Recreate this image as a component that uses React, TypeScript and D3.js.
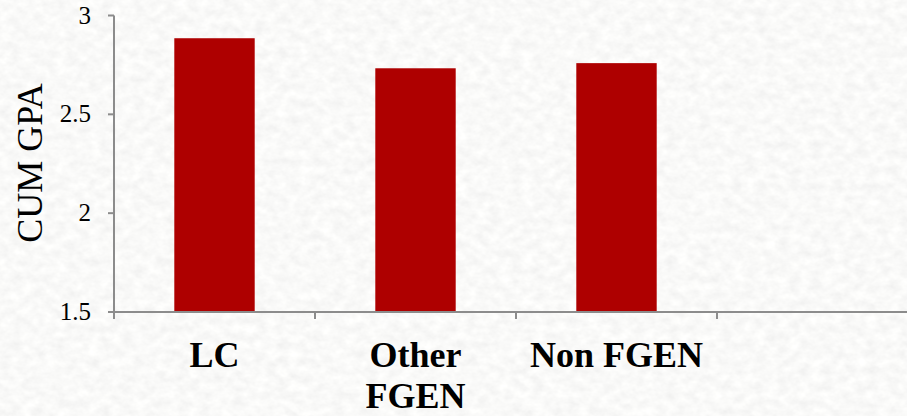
import React from "react";
import * as d3 from "d3";

// Cumulative GPA by student group
const categories: string[] = ["LC", "Other FGEN", "Non FGEN", ""];
const gpaValues: number[] = [2.885, 2.733, 2.759];
const yTicks: number[] = [1.5, 2, 2.5, 3];
const yTitle = "CUM GPA";

const W = 907;
const H = 416;
const M = { left: 114, top: 15.5, right: 918, bottom: 312 };
const SERIF = "Liberation Serif";
const AXIS = "#8c8c8c";
const BAR = "#ae0000";

const x = d3
  .scaleBand<string>()
  .domain(categories)
  .range([M.left, M.right])
  .paddingInner(0.6)
  .paddingOuter(0.3);
const y = d3.scaleLinear().domain([1.5, 3]).range([M.bottom, M.top]);

// break a category name onto several lines when it is wider than its band
function wrapLabel(label: string, maxWidth: number): string[] {
  const words = label.split(" ");
  if (words.length < 2) return [label];
  const ctx = document.createElement("canvas").getContext("2d");
  if (!ctx) return [label];
  ctx.font = `bold 36px "${SERIF}"`;
  return ctx.measureText(label).width > maxWidth ? words : [label];
}

export default function App() {
  const base = y(1.5);
  const bounds = d3.range(categories.length + 1).map((i) => M.left + i * x.step());

  return (
    <div style={{ position: "absolute", left: 0, top: 0, width: W, height: H }}>
      {/* paper texture, kept in its own layer */}
      <svg
        width={W}
        height={H}
        style={{ position: "absolute", left: 0, top: 0, display: "block" }}
      >
        <filter id="paper" x="0" y="0" width="100%" height="100%">
          <feTurbulence
            type="fractalNoise"
            baseFrequency="0.09 0.12"
            numOctaves={3}
            seed={7}
            result="n"
          />
          <feColorMatrix
            in="n"
            type="matrix"
            values="0.18 0 0 0 0.86  0.18 0 0 0 0.86  0.17 0 0 0 0.855  0 0 0 0 1"
          />
        </filter>
        <rect width={W} height={H} fill="#f1f1ef" filter="url(#paper)" />
      </svg>

      <svg
        width={W}
        height={H}
        style={{ position: "absolute", left: 0, top: 0, display: "block" }}
      >
        {/* bars */}
        <g>
          {gpaValues.map((v, i) => (
            <rect
              key={categories[i]}
              x={x(categories[i]) as number}
              y={y(v)}
              width={x.bandwidth()}
              height={base - y(v)}
              fill={BAR}
            />
          ))}
        </g>

        {/* y axis */}
        <g>
          <line x1={M.left} x2={M.left} y1={y(3)} y2={base} stroke={AXIS} strokeWidth={2} />
          {yTicks.map((t) => (
            <g key={t}>
              <line x1={M.left - 6} x2={M.left} y1={y(t)} y2={y(t)} stroke={AXIS} strokeWidth={2} />
              <text
                x={M.left - 23}
                y={y(t)}
                dy="0.32em"
                textAnchor="end"
                fontSize={25}
                fill="#000"
                style={{ fontFamily: SERIF }}
              >
                {String(t)}
              </text>
            </g>
          ))}
          <text
            transform="translate(42,163) rotate(-90)"
            textAnchor="middle"
            fontSize={36}
            fill="#000"
            style={{ fontFamily: SERIF }}
          >
            {yTitle}
          </text>
        </g>

        {/* x axis */}
        <g>
          <line x1={M.left - 6} x2={W + 20} y1={base} y2={base} stroke={AXIS} strokeWidth={2} />
          {bounds.map((b) => (
            <line key={b} x1={b} x2={b} y1={base} y2={base + 7} stroke={AXIS} strokeWidth={2} />
          ))}
          {categories.map((c) => {
            const cx = (x(c) as number) + x.bandwidth() / 2;
            const lines = wrapLabel(c, x.step() * 0.95);
            return (
              <text
                key={c || "blank"}
                x={cx}
                y={base + 55}
                textAnchor="middle"
                fontSize={36}
                fontWeight="bold"
                fill="#000"
                style={{ fontFamily: SERIF }}
              >
                {lines.map((w, i) => (
                  <tspan key={i} x={cx} dy={i === 0 ? 0 : 41}>
                    {w}
                  </tspan>
                ))}
              </text>
            );
          })}
        </g>
      </svg>
    </div>
  );
}
